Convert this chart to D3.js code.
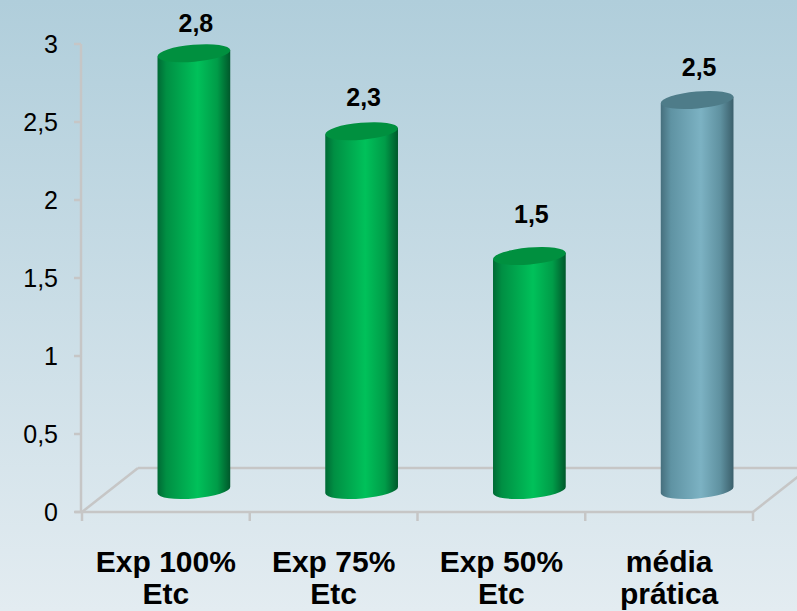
<!DOCTYPE html>
<html>
<head>
<meta charset="utf-8">
<script src="https://cdn.jsdelivr.net/npm/d3@7"></script>
<style>
  html, body { margin: 0; padding: 0; }
  body { width: 797px; height: 611px; overflow: hidden; }
  svg { display: block; font-family: "Liberation Sans", Arial, sans-serif; }
</style>
</head>
<body>
<svg id="chart" width="797" height="611"></svg>
<script>
// Chart data
const categories = ["Exp 100% Etc", "Exp 75% Etc", "Exp 50% Etc", "média prática"];
const values = [2.8, 2.3, 1.5, 2.5];
const groups = ["experimento", "experimento", "experimento", "prática"];
const yTicks = [0, 0.5, 1, 1.5, 2, 2.5, 3];

const W = 797, H = 611;
const svg = d3.select("#chart");

// Portuguese number format: comma as decimal separator
const pt = d3.formatLocale({ decimal: ",", thousands: ".", grouping: [3], currency: ["R$", ""] });
const fmtTick = pt.format("~g");
const fmtVal = pt.format(".1f");

// Plot geometry (front plane of the 3-D box)
const x = d3.scaleBand().domain(categories).range([82, 753]).padding(0);
const y = d3.scaleLinear().domain([0, 3]).range([512, 44]);
// Data labels float above the cylinders on their own (perspective) plane
const yLabel = d3.scaleLinear().domain([0, 3]).range([434, -6]);
const depth = { dx: 56, dy: -44 };          // back wall offset
const mid = { dx: depth.dx / 2, dy: depth.dy / 2 }; // bars sit half way in
const barW = 73, rx = barW / 2, ry = 8.5, tilt = -5;

const defs = svg.append("defs");

// Background gradient
const bg = defs.append("linearGradient").attr("id", "bg")
  .attr("x1", 0).attr("y1", 0).attr("x2", 0).attr("y2", 1);
bg.append("stop").attr("offset", "0%").attr("stop-color", "#b0cedb");
bg.append("stop").attr("offset", "100%").attr("stop-color", "#e3ecf1");
svg.append("rect").attr("width", W).attr("height", H).attr("fill", "url(#bg)");

// Cylinder shading per group
const palette = {
  "experimento": {
    side: [["0%", "#006a35"], ["12%", "#008f43"], ["55%", "#00c15a"], ["82%", "#009c48"], ["100%", "#00582b"]],
    top: "#00903f"
  },
  "prática": {
    side: [["0%", "#466f7d"], ["14%", "#5f93a3"], ["55%", "#7cb2c3"], ["82%", "#5f91a0"], ["100%", "#3b5f6b"]],
    top: "#4e7c89"
  }
};
Object.entries(palette).forEach(([k, p], i) => {
  const g = defs.append("linearGradient").attr("id", "side" + i)
    .attr("x1", 0).attr("y1", 0).attr("x2", 1).attr("y2", 0);
  p.side.forEach(([o, c]) => g.append("stop").attr("offset", o).attr("stop-color", c));
  p.id = "side" + i;
});

const axisColor = "#c6c6c6";

// Floor outline of the 3-D box
const x0 = x.range()[0], x1 = x.range()[1], yb = y(0);
const floor = svg.append("g").attr("stroke", axisColor).attr("stroke-width", 2.5).attr("fill", "none");
floor.append("line").attr("x1", x0).attr("y1", yb).attr("x2", x0 + depth.dx).attr("y2", yb + depth.dy);
floor.append("line").attr("x1", x0 + depth.dx).attr("y1", yb + depth.dy).attr("x2", x1 + depth.dx).attr("y2", yb + depth.dy);
floor.append("line").attr("x1", x1).attr("y1", yb).attr("x2", x1 + depth.dx).attr("y2", yb + depth.dy);

// Category axis (front edge) with tick marks between categories
const xAxisG = svg.append("g");
xAxisG.append("line").attr("x1", 75).attr("x2", x1).attr("y1", yb).attr("y2", yb)
  .attr("stroke", axisColor).attr("stroke-width", 2.5);
const bounds = categories.map(c => x(c)).concat([x1]);
xAxisG.selectAll("line.tick").data(bounds).join("line").attr("class", "tick")
  .attr("x1", d => d).attr("x2", d => d).attr("y1", yb).attr("y2", yb + 9)
  .attr("stroke", axisColor).attr("stroke-width", 2.5);

// Value axis
const yAxisG = svg.append("g");
yAxisG.append("line").attr("x1", 81).attr("x2", 81).attr("y1", y(3)).attr("y2", y(0))
  .attr("stroke", axisColor).attr("stroke-width", 2.5);
yAxisG.selectAll("line.tick").data(yTicks).join("line").attr("class", "tick")
  .attr("x1", 74).attr("x2", 81).attr("y1", d => y(d)).attr("y2", d => y(d))
  .attr("stroke", axisColor).attr("stroke-width", 2.5);
yAxisG.selectAll("text").data(yTicks).join("text")
  .attr("x", 58).attr("y", d => y(d)).attr("dy", "0.36em")
  .attr("text-anchor", "end").attr("font-size", 25).attr("fill", "#000")
  .text(d => fmtTick(d));

// Cylinders
const rad = tilt * Math.PI / 180;
const ex = rx * Math.cos(rad), ey = rx * Math.sin(rad);
const bars = svg.append("g").selectAll("g").data(values).join("g");
bars.each(function(v, i) {
  const g = d3.select(this);
  const p = palette[groups[i]];
  const cx = x(categories[i]) + x.bandwidth() / 2 + mid.dx;
  const yBot = y(0) + mid.dy;
  const yTop = y(v) + mid.dy;
  const side = `M${cx - ex},${yTop - ey} L${cx - ex},${yBot - ey}` +
    ` A${rx},${ry} ${tilt} 0 0 ${cx + ex},${yBot + ey}` +
    ` L${cx + ex},${yTop + ey} Z`;
  g.append("path").attr("d", side).attr("fill", `url(#${p.id})`);
  g.append("ellipse").attr("cx", cx).attr("cy", yTop).attr("rx", rx).attr("ry", ry)
    .attr("transform", `rotate(${tilt},${cx},${yTop})`).attr("fill", p.top);
  g.append("text").attr("x", cx + 2).attr("y", yLabel(v)).attr("dy", "0.36em")
    .attr("text-anchor", "middle").attr("font-size", 25).attr("font-weight", "bold")
    .attr("fill", "#000").text(fmtVal(v));
});

// Category labels, two lines each
const labels = svg.append("g").selectAll("text").data(categories).join("text")
  .attr("text-anchor", "middle").attr("font-size", 30).attr("font-weight", "bold").attr("fill", "#000");
labels.each(function(c) {
  const cut = c.lastIndexOf(" ");
  const lines = [c.slice(0, cut), c.slice(cut + 1)];
  const cx = x(c) + x.bandwidth() / 2;
  d3.select(this).selectAll("tspan").data(lines).join("tspan")
    .attr("x", cx).attr("y", (d, j) => 572 + j * 32).text(d => d);
});
</script>
</body>
</html>
